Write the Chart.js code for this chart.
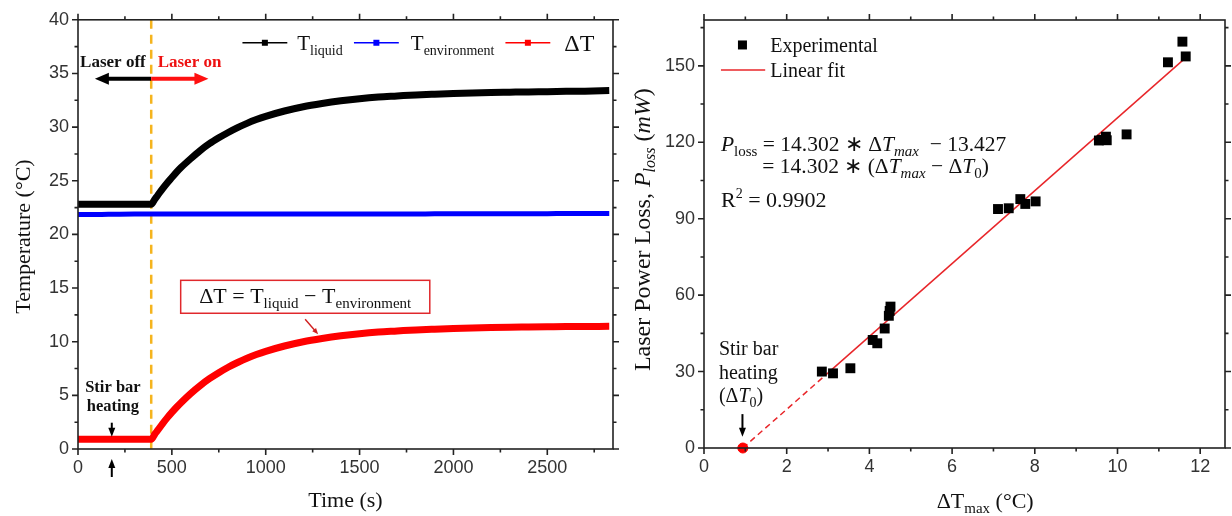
<!DOCTYPE html>
<html><head><meta charset="utf-8">
<script src="https://cdn.jsdelivr.net/npm/chart.js@4.4.1/dist/chart.umd.min.js"></script>
<style>
html,body{margin:0;padding:0;background:#fff;}
#wrap{position:relative;width:1232px;height:516px;background:#fff;overflow:hidden;}
#b1{position:absolute;left:0;top:0;width:620px;height:516px;}
#b2{position:absolute;left:620px;top:0;width:612px;height:516px;}
</style></head><body>
<div id="wrap"><div id="b1"><canvas id="c1" width="620" height="516"></canvas></div><div id="b2"><canvas id="c2" width="612" height="516"></canvas></div></div>
<script>
// ---------- data ----------
const timeS = [0,100,200,300,390,410,425,450,475,500,525,550,600,650,700,750,800,850,900,950,1000,1100,1200,1300,1400,1500,1600,1700,1800,1900,2000,2100,2200,2300,2400,2500,2600,2700,2830];
const tLiquid = [22.8,22.8,22.8,22.8,22.8,23.3,23.65,24.25,24.8,25.3,25.8,26.25,27.05,27.8,28.45,29.0,29.5,29.95,30.35,30.7,31.0,31.5,31.9,32.2,32.45,32.65,32.8,32.9,33.0,33.07,33.13,33.18,33.22,33.25,33.28,33.3,33.33,33.35,33.4];
const tEnvironment = [21.85,21.85,21.88,21.9,21.9,21.9,21.9,21.9,21.9,21.9,21.9,21.9,21.9,21.9,21.9,21.9,21.9,21.9,21.9,21.9,21.9,21.9,21.9,21.9,21.9,21.9,21.9,21.9,21.9,21.92,21.92,21.92,21.92,21.93,21.93,21.93,21.95,21.95,21.95];
const deltaT = [0.9,0.9,0.9,0.9,0.9,1.41,1.75,2.35,2.9,3.41,3.89,4.34,5.17,5.9,6.55,7.11,7.62,8.06,8.46,8.8,9.1,9.6,10.0,10.3,10.55,10.75,10.9,11.0,11.1,11.17,11.23,11.28,11.32,11.35,11.37,11.39,11.41,11.42,11.43];

const dTmax = [2.85,3.12,3.54,4.08,4.19,4.37,4.47,4.49,4.51,7.11,7.37,7.65,7.77,8.02,9.55,9.62,9.72,9.74,10.22,11.22,11.57,11.65];
const pLoss = [30.0,29.3,31.3,42.4,41.1,46.9,51.9,53.8,55.5,93.8,94.1,97.7,95.8,96.8,120.7,121.0,122.2,120.8,123.1,151.4,159.5,153.7];
const fitSolidX = [3.0, 11.7];
const fitSolidP = [29.48, 153.91];
const fitDashX = [0.939, 3.0];
const fitDashP = [0, 29.48];
const stirX = [0.939];
const stirP = [0];

const leftXTicks = [0,500,1000,1500,2000,2500];
const leftXMinor = [250,750,1250,1750,2250,2750];
const leftYTicks = [0,5,10,15,20,25,30,35,40];
const leftYMinor = [2.5,7.5,12.5,17.5,22.5,27.5,32.5,37.5];
const rightXTicks = [0,2,4,6,8,10,12];
const rightXMinor = [1,3,5,7,9,11];
const rightYTicks = [0,30,60,90,120,150];
const rightYMinor = [15,45,75,105,135,165];

// ---------- helpers ----------
const SERIF = '"Liberation Serif", "Times New Roman", serif';
const SANS = '"Liberation Sans", Arial, sans-serif';
function rich(ctx, x, y, parts, align) {
  let w = 0;
  const items = parts.map(p => {
    const f = (p.it ? 'italic ' : '') + (p.b ? 'bold ' : '') + p.s + 'px ' + (p.f || SERIF);
    ctx.font = f; const m = ctx.measureText(p.t).width; w += m;
    return Object.assign({}, p, {font: f, w: m});
  });
  let cx = align === 'center' ? x - w / 2 : (align === 'right' ? x - w : x);
  ctx.textBaseline = 'alphabetic'; ctx.textAlign = 'left';
  for (const it of items) { ctx.font = it.font; ctx.fillStyle = it.c || '#111'; ctx.fillText(it.t, cx, y + (it.dy || 0)); cx += it.w; }
  return w;
}
function arrow(ctx, x1, y1, x2, y2, color, lw, hl, hw) {
  const a = Math.atan2(y2 - y1, x2 - x1), c = Math.cos(a), s = Math.sin(a);
  ctx.save(); ctx.strokeStyle = color; ctx.fillStyle = color; ctx.lineWidth = lw; ctx.setLineDash([]);
  ctx.beginPath(); ctx.moveTo(x1, y1); ctx.lineTo(x2 - c * hl * 0.7, y2 - s * hl * 0.7); ctx.stroke();
  ctx.beginPath(); ctx.moveTo(x2, y2);
  ctx.lineTo(x2 - hl * c + hw / 2 * s, y2 - hl * s - hw / 2 * c);
  ctx.lineTo(x2 - hl * c - hw / 2 * s, y2 - hl * s + hw / 2 * c);
  ctx.closePath(); ctx.fill(); ctx.restore();
}
function frame(chart, xMaj, xMin, yMaj, yMin) {
  const ctx = chart.ctx, a = chart.chartArea, x = chart.scales.x, y = chart.scales.y;
  ctx.save(); ctx.strokeStyle = '#222'; ctx.lineWidth = 1.6; ctx.setLineDash([]);
  ctx.strokeRect(a.left, a.top, a.right - a.left, a.bottom - a.top);
  ctx.beginPath();
  const tx = (v, L) => { const p = x.getPixelForValue(v); ctx.moveTo(p, a.bottom); ctx.lineTo(p, a.bottom + L); ctx.moveTo(p, a.top); ctx.lineTo(p, a.top - L); };
  const ty = (v, L) => { const p = y.getPixelForValue(v); ctx.moveTo(a.left, p); ctx.lineTo(a.left - L, p); ctx.moveTo(a.right, p); ctx.lineTo(a.right + L, p); };
  xMaj.forEach(v => tx(v, 6)); xMin.forEach(v => tx(v, 3.5)); yMaj.forEach(v => ty(v, 6)); yMin.forEach(v => ty(v, 3.5));
  ctx.stroke(); ctx.restore();
}
const pts = (xs, ys) => xs.map((v, i) => ({x: v, y: ys[i]}));
const plainLabel = v => String(v);

// ---------- left chart ----------
const leftPlugin = {
  id: 'leftDecor',
  beforeDatasetsDraw(chart) {
    const ctx = chart.ctx, a = chart.chartArea, X = v => chart.scales.x.getPixelForValue(v);
    ctx.save(); ctx.strokeStyle = '#f5b41e'; ctx.lineWidth = 2.5; ctx.setLineDash([9, 6]);
    ctx.beginPath(); ctx.moveTo(X(390), a.top); ctx.lineTo(X(390), a.bottom); ctx.stroke(); ctx.restore();
  },
  afterDatasetsDraw(chart) {
    frame(chart, leftXTicks, leftXMinor, leftYTicks, leftYMinor);
  },
  afterDraw(chart) {
    const ctx = chart.ctx, a = chart.chartArea;
    const X = v => chart.scales.x.getPixelForValue(v), Y = v => chart.scales.y.getPixelForValue(v);
    ctx.save();
    // legend
    const ly = Y(37.86);
    const leg = [[876, 1115, '#000'], [1470, 1709, '#0000ff'], [2277, 2516, '#ff0000']];
    leg.forEach(l => {
      ctx.strokeStyle = l[2]; ctx.lineWidth = 1.6; ctx.beginPath(); ctx.moveTo(X(l[0]), ly); ctx.lineTo(X(l[1]), ly); ctx.stroke();
      ctx.fillStyle = l[2]; const mx = (X(l[0]) + X(l[1])) / 2; ctx.fillRect(mx - 3, ly - 3, 6, 6);
    });
    rich(ctx, X(1168), ly + 7, [{t: 'T', s: 21}, {t: 'liquid', s: 14, dy: 5}]);
    rich(ctx, X(1773), ly + 7, [{t: 'T', s: 21}, {t: 'environment', s: 14, dy: 5}]);
    rich(ctx, X(2590), ly + 8, [{t: '\u0394T', s: 24}]);
    // laser off / on
    rich(ctx, X(186), Y(36.2) + 6, [{t: 'Laser off', s: 17, b: true}], 'center');
    rich(ctx, X(594), Y(36.2) + 6, [{t: 'Laser on', s: 17, b: true, c: '#ee1111'}], 'center');
    arrow(ctx, X(390), Y(34.5), X(90), Y(34.5), '#000', 4, 14, 12);
    arrow(ctx, X(390), Y(34.5), X(695), Y(34.5), '#ff1010', 4, 14, 12);
    // formula box
    const bx1 = X(547), bx2 = X(1874), by1 = Y(15.72), by2 = Y(12.65);
    ctx.strokeStyle = '#e0282c'; ctx.lineWidth = 1.5; ctx.strokeRect(bx1, by1, bx2 - bx1, by2 - by1);
    rich(ctx, (bx1 + bx2) / 2, (by1 + by2) / 2 + 6, [
      {t: '\u0394T = T', s: 22}, {t: 'liquid', s: 15, dy: 5}, {t: ' \u2212 T', s: 22}, {t: 'environment', s: 15, dy: 5}], 'center');
    arrow(ctx, X(1210), Y(12.09), X(1279), Y(10.7), '#d02020', 1.4, 6, 5);
    // stir bar heating
    rich(ctx, X(186), Y(5.86) + 6, [{t: 'Stir bar', s: 16.5, b: true}], 'center');
    rich(ctx, X(186), Y(4.1) + 6, [{t: 'heating', s: 16.5, b: true}], 'center');
    arrow(ctx, X(180), Y(2.45), X(180), Y(1.15), '#000', 2, 9, 7);
    arrow(ctx, X(180), a.bottom + 28, X(180), a.bottom + 10, '#000', 2, 9, 7);
    // axis titles
    rich(ctx, (a.left + a.right) / 2, 507, [{t: 'Time (s)', s: 22}], 'center');
    ctx.translate(30, Y(19.8)); ctx.rotate(-Math.PI / 2);
    rich(ctx, 0, 0, [{t: 'Temperature (\u00b0C)', s: 22}], 'center');
    ctx.restore();
  }
};

new Chart(document.getElementById('c1'), {
  type: 'line',
  data: {datasets: [
    {label: 'T_liquid', data: pts(timeS, tLiquid), borderColor: '#000', backgroundColor: '#000', borderWidth: 7, pointRadius: 0, cubicInterpolationMode: 'monotone', borderCapStyle: 'butt'},
    {label: 'T_environment', data: pts(timeS, tEnvironment), borderColor: '#0000ff', backgroundColor: '#0000ff', borderWidth: 5, pointRadius: 0, cubicInterpolationMode: 'monotone'},
    {label: '\u0394T', data: pts(timeS, deltaT), borderColor: '#ff0000', backgroundColor: '#ff0000', borderWidth: 7, pointRadius: 0, cubicInterpolationMode: 'monotone'}
  ]},
  options: {
    responsive: false, animation: false, devicePixelRatio: 1,
    layout: {padding: {left: 0, right: 7, top: 19, bottom: 0}},
    scales: {
      x: {type: 'linear', min: 0, max: 2850, afterFit(s) { s.height = 67; },
        afterBuildTicks(s) { s.ticks = leftXTicks.map(v => ({value: v})); },
        grid: {display: false, drawTicks: false}, border: {display: false},
        ticks: {font: {family: SANS, size: 18}, color: '#333', padding: 8, maxRotation: 0, autoSkip: false, callback: plainLabel}},
      y: {type: 'linear', min: 0, max: 40, afterFit(s) { s.width = 78; },
        afterBuildTicks(s) { s.ticks = leftYTicks.map(v => ({value: v})); },
        grid: {display: false, drawTicks: false}, border: {display: false},
        ticks: {font: {family: SANS, size: 18}, color: '#333', padding: 9, autoSkip: false, callback: plainLabel}}
    },
    plugins: {legend: {display: false}, tooltip: {enabled: false}}
  },
  plugins: [leftPlugin]
});

// ---------- right chart ----------
const rightPlugin = {
  id: 'rightDecor',
  afterDatasetsDraw(chart) { frame(chart, rightXTicks, rightXMinor, rightYTicks, rightYMinor); },
  afterDraw(chart) {
    const ctx = chart.ctx, a = chart.chartArea;
    const X = v => chart.scales.x.getPixelForValue(v), Y = v => chart.scales.y.getPixelForValue(v);
    ctx.save();
    // legend
    ctx.fillStyle = '#000'; ctx.fillRect(X(0.93) - 4.5, Y(158.2) - 4.5, 9, 9);
    rich(ctx, X(1.6), Y(158.2) + 7, [{t: 'Experimental', s: 20}]);
    ctx.strokeStyle = '#e8262a'; ctx.lineWidth = 1.5; ctx.beginPath(); ctx.moveTo(X(0.41), Y(148.4)); ctx.lineTo(X(1.48), Y(148.4)); ctx.stroke();
    rich(ctx, X(1.6), Y(148.4) + 7, [{t: 'Linear fit', s: 20}]);
    // equations
    rich(ctx, X(0.41), Y(119.3) + 7, [
      {t: 'P', s: 21.5, it: true}, {t: 'loss', s: 15, dy: 5}, {t: ' = 14.302 \u2217 \u0394', s: 21.5}, {t: 'T', s: 21.5, it: true},
      {t: 'max', s: 15, it: true, dy: 5}, {t: '  \u2212 13.427', s: 21.5}]);
    rich(ctx, X(1.41), Y(110.7) + 7, [
      {t: '= 14.302 \u2217 (\u0394', s: 21.5}, {t: 'T', s: 21.5, it: true}, {t: 'max', s: 15, it: true, dy: 5},
      {t: ' \u2212 \u0394', s: 21.5}, {t: 'T', s: 21.5, it: true}, {t: '0', s: 15, dy: 5}, {t: ')', s: 21.5}]);
    rich(ctx, X(0.41), Y(97.3) + 7, [{t: 'R', s: 22}, {t: '2', s: 14, dy: -9}, {t: ' = 0.9902', s: 22}]);
    // stir bar heating
    rich(ctx, X(0.36), Y(38.9) + 6, [{t: 'Stir bar', s: 20}]);
    rich(ctx, X(0.36), Y(29.4) + 6, [{t: 'heating', s: 20}]);
    rich(ctx, X(0.36), Y(20.4) + 6, [{t: '(\u0394', s: 20}, {t: 'T', s: 20, it: true}, {t: '0', s: 14, dy: 5}, {t: ')', s: 20}]);
    arrow(ctx, X(0.93), Y(13.3), X(0.93), Y(4.4), '#000', 2, 9, 7);
    // axis titles
    rich(ctx, X(6.8), 508, [{t: '\u0394T', s: 22}, {t: 'max', s: 15, dy: 5}, {t: ' (\u00b0C)', s: 22}], 'center');
    ctx.translate(30, Y(85.7)); ctx.rotate(-Math.PI / 2);
    rich(ctx, 0, 0, [{t: 'Laser Power Loss, ', s: 24}, {t: 'P', s: 24, it: true}, {t: 'loss', s: 16, it: true, dy: 5},
      {t: ' (', s: 24}, {t: 'mW', s: 24, it: true}, {t: ')', s: 24}], 'center');
    ctx.restore();
  }
};

new Chart(document.getElementById('c2'), {
  type: 'scatter',
  data: {datasets: [
    {label: 'Experimental', data: pts(dTmax, pLoss), pointStyle: 'rect', pointRadius: 7, backgroundColor: '#000', borderColor: '#000', borderWidth: 0, order: 0},
    {label: 'Linear fit', type: 'line', data: pts(fitSolidX, fitSolidP), borderColor: '#e8262a', borderWidth: 1.5, pointRadius: 0, order: 1},
    {label: 'Extrapolation', type: 'line', data: pts(fitDashX, fitDashP), borderColor: '#e8262a', borderWidth: 1.5, borderDash: [6, 4], pointRadius: 0, order: 1},
    {label: 'Stir bar heating', data: pts(stirX, stirP), pointStyle: 'circle', pointRadius: 5, backgroundColor: '#ff0000', borderColor: '#ff0000', order: 0, clip: false}
  ]},
  options: {
    responsive: false, animation: false, devicePixelRatio: 1,
    layout: {padding: {left: 0, right: 3, top: 20, bottom: 0}},
    scales: {
      x: {type: 'linear', min: 0, max: 12.6, afterFit(s) { s.height = 68; },
        afterBuildTicks(s) { s.ticks = rightXTicks.map(v => ({value: v})); },
        grid: {display: false, drawTicks: false}, border: {display: false},
        ticks: {font: {family: SANS, size: 18}, color: '#333', padding: 8, maxRotation: 0, autoSkip: false, callback: plainLabel}},
      y: {type: 'linear', min: 0, max: 168, afterFit(s) { s.width = 84; },
        afterBuildTicks(s) { s.ticks = rightYTicks.map(v => ({value: v})); },
        grid: {display: false, drawTicks: false}, border: {display: false},
        ticks: {font: {family: SANS, size: 18}, color: '#333', padding: 9, autoSkip: false, callback: plainLabel}}
    },
    plugins: {legend: {display: false}, tooltip: {enabled: false}}
  },
  plugins: [rightPlugin]
});
</script>
</body></html>
